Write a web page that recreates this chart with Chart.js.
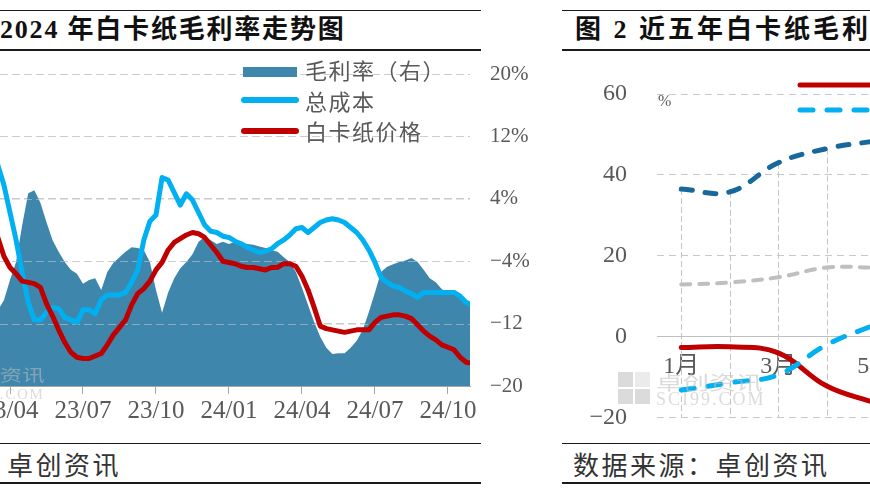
<!DOCTYPE html>
<html>
<head>
<meta charset="utf-8">
<script src="https://cdn.jsdelivr.net/npm/chart.js"></script>
<style>
  body { margin: 0; width: 870px; height: 492px; overflow: hidden; background: #fff; position: relative;
         font-family: "Noto Sans CJK SC", sans-serif; color: #595959; }
  .abs { position: absolute; white-space: nowrap; }
  .rule { position: absolute; background: #1a1a1a; }
  .title { position: absolute; top: 14px; font: bold 26px/32px "Liberation Serif", "Noto Sans CJK SC"; color: #111;
           letter-spacing: 1.8px; white-space: nowrap; }
  .source { position: absolute; top: 449px; font: 26px/30px "Noto Sans CJK SC"; color: #333; letter-spacing: 2.5px;
            white-space: nowrap; }
  .leg { position: absolute; left: 305px; font: 22px/24px "Noto Sans CJK SC"; color: #595959; white-space: nowrap;
         letter-spacing: 1.5px; }
  .wm { position: absolute; color: rgba(190,190,190,0.55); white-space: nowrap; transform-origin: left top; }
  .sq { position: absolute; width: 15px; height: 15px; background: rgba(190,190,190,0.55); }
</style>
</head>
<body>

<!-- left panel frame -->
<div class="rule" style="left:0;top:10px;width:481px;height:1px"></div>
<div class="rule" style="left:0;top:49px;width:481px;height:2px"></div>
<div class="title" style="left:0">2024 年白卡纸毛利率走势图</div>
<div class="rule" style="left:0;top:443px;width:481px;height:1px"></div>
<div class="rule" style="left:0;top:482px;width:481px;height:2px"></div>
<div class="source" style="left:7px">卓创资讯</div>

<!-- right panel frame -->
<div class="rule" style="left:562px;top:10px;width:308px;height:1px"></div>
<div class="rule" style="left:562px;top:49px;width:308px;height:2px"></div>
<div class="title" style="left:575px;letter-spacing:3px">图 2 近五年白卡纸毛利</div>
<div class="rule" style="left:562px;top:443px;width:308px;height:1px"></div>
<div class="rule" style="left:562px;top:482px;width:308px;height:2px"></div>
<div class="source" style="left:573px">数据来源：卓创资讯</div>

<div style="position:absolute;left:0;top:0;width:540px;height:440px">
  <canvas id="c1" width="540" height="440"></canvas>
</div>
<div style="position:absolute;left:560px;top:0;width:310px;height:462px;overflow:hidden">
  <canvas id="c2" width="690" height="462"></canvas>
</div>

<!-- legend, chart 1 -->
<div class="abs" style="left:243px;top:67px;width:54px;height:10px;background:#3F86AD"></div>
<div class="abs" style="left:241px;top:97px;width:58px;height:6px;border-radius:3px;background:#00B0F0"></div>
<div class="abs" style="left:241px;top:128px;width:58px;height:6px;border-radius:3px;background:#C00000"></div>
<div class="leg" style="top:57px">毛利率（右）</div>
<div class="leg" style="top:88px">总成本</div>
<div class="leg" style="top:118px">白卡纸价格</div>

<!-- legend, chart 2 (partly outside the window) -->
<svg class="abs" style="left:790px;top:70px" width="90" height="50">
  <line x1="10" y1="15" x2="90" y2="15" stroke="#C00000" stroke-width="5" stroke-linecap="round"/>
  <line x1="10" y1="40" x2="90" y2="40" stroke="#00B0F0" stroke-width="5" stroke-linecap="round" stroke-dasharray="13 14"/>
</svg>
<div class="abs" style="left:658px;top:92px;font:16px 'Liberation Serif';color:#595959">%</div>

<!-- watermarks -->
<div class="wm" style="left:-45px;top:362px;font-size:16px;transform:scaleX(1.4)">卓创资讯</div>
<div class="wm" style="left:-47px;top:386px;font:15px 'Liberation Serif';letter-spacing:1.7px">SCI99.COM</div>
<div class="sq" style="left:618px;top:372px"></div>
<div class="sq" style="left:635px;top:372px;background:rgba(190,190,190,0.3)"></div>
<div class="sq" style="left:618px;top:389px"></div>
<div class="sq" style="left:635px;top:389px"></div>
<div class="wm" style="left:656px;top:368px;font-size:19px;transform:scaleX(1.4)">卓创资讯</div>
<div class="wm" style="left:656px;top:389px;font:18px 'Liberation Serif';letter-spacing:2px">SCI99.COM</div>

<script>
// chart 1: weekly points, x in months after Dec 2022
const weekStart = 2.5;
const weekStep = 0.25;
const quarterTicks = [3, 6, 9, 12, 15, 18, 21];
const quarterLabels = ['23/04', '23/07', '23/10', '24/01', '24/04', '24/07', '24/10'];
const marginTicks = [-20, -12, -4, 4, 12, 20];
const marginTickLabels = ['−20', '−12', '−4%', '4%', '12%', '20%'];

// 毛利率 (%)
const grossMargin = [-10.3, -9.0, -6.4, -4.1, 0.6, 4.7, 5.1, 3.5, 1.0, -1.3,
  -2.8, -4.1, -5.1, -5.6, -6.9, -6.4, -6.2, -7.7, -5.4, -4.2,
  -3.5, -2.8, -2.2, -2.3, -2.6, -4.1, -7.7, -10.6, -8.0, -6.2,
  -4.9, -4.1, -3.1, -1.5, -0.9, -1.3, -1.8, -1.5, -1.8, -1.5,
  -1.7, -1.8, -1.9, -2.1, -2.3, -2.6, -2.8, -3.5, -4.1, -5.4,
  -7.4, -9.6, -11.8, -13.7, -15.1, -15.9, -15.8, -15.8, -15.1, -14.2,
  -12.8, -10.5, -8.0, -5.4, -4.7, -4.4, -4.1, -3.9, -3.6, -4.1,
  -5.1, -6.2, -6.7, -7.6, -8.0, -8.1, -8.5, -9.5, -9.7];

// 总成本 (元/吨)
const totalCost = [5270, 5110, 4890, 4670, 4410, 4170, 4030, 4030, 4090, 4130,
  4120, 4050, 4030, 4010, 4110, 4110, 4080, 4190, 4230, 4230,
  4230, 4250, 4330, 4430, 4670, 4820, 4870, 5170, 5150, 5050,
  4950, 5040, 4990, 4890, 4790, 4740, 4730, 4700, 4690, 4660,
  4640, 4610, 4590, 4570, 4580, 4600, 4640, 4670, 4710, 4760,
  4770, 4730, 4770, 4810, 4830, 4840, 4830, 4810, 4770, 4730,
  4670, 4590, 4490, 4370, 4330, 4300, 4290, 4260, 4240, 4210,
  4250, 4250, 4250, 4250, 4250, 4250, 4220, 4170, 4150];

// 白卡纸价格 (元/吨)
const boardPrice = [4690, 4540, 4450, 4400, 4340, 4330, 4320, 4290, 4160, 4060,
  3950, 3850, 3770, 3730, 3720, 3720, 3740, 3760, 3830, 3910,
  3970, 4030, 4150, 4240, 4280, 4340, 4430, 4490, 4590, 4650,
  4680, 4710, 4730, 4720, 4690, 4630, 4570, 4500, 4490, 4480,
  4460, 4450, 4450, 4440, 4430, 4450, 4450, 4480, 4480, 4460,
  4380, 4270, 4130, 3980, 3960, 3950, 3940, 3930, 3940, 3950,
  3950, 3950, 4010, 4050, 4060, 4070, 4070, 4060, 4040, 3990,
  3940, 3900, 3870, 3830, 3810, 3790, 3730, 3690, 3680];

// chart 2: monthly margin (%)
const months = ['1月', '2月', '3月', '4月', '5月', '6月', '7月', '8月', '9月', '10月', '11月', '12月'];
const margin2024 = [-2.7, -2.5, -4.0, -12.2, -16.4];
const margin2023 = [-13.2, -11.4, -9.4, -2.0, 3.0];
const margin2022 = [12.9, 13.4, 14.7, 17.1, 17.1];
const margin2021 = [36.5, 35.8, 43.0, 46.5, 48.4];

const serif = "'Liberation Serif', 'Noto Sans CJK SC'";
const textGrey = '#595959';

function toPoints(values) {
    return values.map((v, i) => ({ x: weekStart + i * weekStep, y: v }));
}

// redraw the dashed grid on top of the area fill, under the two lines
const gridOverArea = {
    id: 'gridOverArea',
    afterDatasetDraw(chart, args) {
        if (args.index !== 2) return;
        const { ctx, chartArea, scales } = chart;
        ctx.save();
        ctx.strokeStyle = 'rgba(205,205,205,0.55)';
        ctx.lineWidth = 1;
        ctx.setLineDash([8, 4]);
        marginTicks.slice(1).forEach(v => {
            const py = Math.round(scales.y.getPixelForValue(v)) + 0.5;
            ctx.beginPath();
            ctx.moveTo(chartArea.left, py);
            ctx.lineTo(chartArea.right, py);
            ctx.stroke();
        });
        ctx.restore();
    }
};

// vertical drop lines from the highest point of each month to the bottom
const dropLines = {
    id: 'dropLines',
    beforeDatasetsDraw(chart) {
        const { ctx, chartArea } = chart;
        const metas = chart.getSortedVisibleDatasetMetas();
        const n = Math.max(...metas.map(m => m.data.length));
        ctx.save();
        ctx.strokeStyle = '#C4C4C4';
        ctx.lineWidth = 1;
        ctx.setLineDash([6, 3]);
        for (let i = 0; i < n; i++) {
            const pts = metas.map(m => m.data[i]).filter(p => p && !p.skip);
            if (!pts.length) continue;
            const x = Math.round(pts[0].x) + 0.5;
            const top = Math.min(...pts.map(p => p.y));
            ctx.beginPath();
            ctx.moveTo(x, top);
            ctx.lineTo(x, chartArea.bottom);
            ctx.stroke();
        }
        ctx.restore();
    }
};

new Chart(document.getElementById('c1'), {
    type: 'line',
    data: {
        datasets: [{
            label: '白卡纸价格',
            data: toPoints(boardPrice),
            yAxisID: 'yPrice',
            borderColor: '#C00000',
            borderWidth: 5,
            pointRadius: 0,
            borderJoinStyle: 'round',
            borderCapStyle: 'round',
            order: 0
        }, {
            label: '总成本',
            data: toPoints(totalCost),
            yAxisID: 'yPrice',
            borderColor: '#00B0F0',
            borderWidth: 5,
            pointRadius: 0,
            borderJoinStyle: 'round',
            borderCapStyle: 'round',
            order: 1
        }, {
            label: '毛利率（右）',
            data: toPoints(grossMargin),
            yAxisID: 'y',
            fill: 'start',
            backgroundColor: '#3F86AD',
            borderWidth: 0,
            pointRadius: 0,
            order: 2
        }]
    },
    options: {
        responsive: false,
        animation: false,
        devicePixelRatio: 1,
        layout: { padding: { top: 74, left: 0, right: 0, bottom: 0 } },
        plugins: { legend: { display: false }, tooltip: { enabled: false } },
        scales: {
            x: {
                type: 'linear',
                min: 2.589,
                max: 21.906,
                afterBuildTicks: s => { s.ticks = quarterTicks.map(v => ({ value: v })); },
                afterFit: s => { s.height = 54; s.paddingLeft = 0; s.paddingRight = 0; },
                ticks: {
                    callback: v => quarterLabels[quarterTicks.indexOf(v)] || '',
                    font: { family: serif, size: 25 },
                    color: textGrey,
                    padding: 2,
                    maxRotation: 0,
                    autoSkip: false
                },
                grid: { drawOnChartArea: false, drawTicks: true, tickLength: 8, tickColor: '#A6A6A6' },
                border: { display: true, color: '#A6A6A6' }
            },
            y: {
                position: 'right',
                min: -20,
                max: 20,
                afterBuildTicks: s => { s.ticks = marginTicks.map(v => ({ value: v })); },
                afterFit: s => { s.width = 70; },
                ticks: {
                    callback: v => marginTickLabels[marginTicks.indexOf(v)],
                    font: { family: serif, size: 21 },
                    color: textGrey,
                    padding: 20
                },
                grid: { color: '#C8C8C8', drawTicks: false },
                border: { display: false, dash: [8, 4] }
            },
            yPrice: { position: 'left', display: false, min: 3500, max: 6000 }
        }
    },
    plugins: [gridOverArea]
});

const dashed = (color, dash, width) => ({
    borderColor: color,
    borderWidth: width,
    borderDash: dash,
    borderCapStyle: 'round',
    pointRadius: 0,
    tension: 0.4
});

new Chart(document.getElementById('c2'), {
    type: 'line',
    data: {
        labels: months,
        datasets: [
            Object.assign({ label: '2023年', data: margin2023 }, dashed('#00B0F0', [13, 14], 5)),
            Object.assign({ label: '2024年', data: margin2024 }, dashed('#C00000', [], 5)),
            Object.assign({ label: '2022年', data: margin2022 }, dashed('#BFBFBF', [9, 9], 4)),
            Object.assign({ label: '2021年', data: margin2021 }, dashed('#17699C', [11, 13], 5))
        ]
    },
    options: {
        responsive: false,
        animation: false,
        devicePixelRatio: 1,
        layout: { padding: { top: 94, left: 0, right: 11, bottom: 25 } },
        plugins: { legend: { display: false }, tooltip: { enabled: false } },
        scales: {
            x: {
                position: { y: 0 },
                offset: true,
                afterFit: s => { s.height = 0; s.paddingLeft = 0; s.paddingRight = 0; },
                ticks: {
                    callback: (v, i) => (i % 2 === 0 ? months[i] : ''),
                    font: { family: serif, size: 24 },
                    color: textGrey,
                    padding: 16,
                    maxRotation: 0,
                    autoSkip: false
                },
                grid: { display: false, drawTicks: false },
                border: { display: true, color: '#BFBFBF', width: 1 }
            },
            y: {
                min: -20,
                max: 60,
                afterFit: s => { s.width = 97; },
                ticks: {
                    stepSize: 20,
                    callback: v => (v < 0 ? '−' + Math.abs(v) : String(v)),
                    font: { family: serif, size: 24 },
                    color: textGrey,
                    padding: 30
                },
                grid: { color: '#C8C8C8', drawTicks: false },
                border: { display: false, dash: [7, 5] }
            }
        }
    },
    plugins: [dropLines]
});
</script>
</body>
</html>
